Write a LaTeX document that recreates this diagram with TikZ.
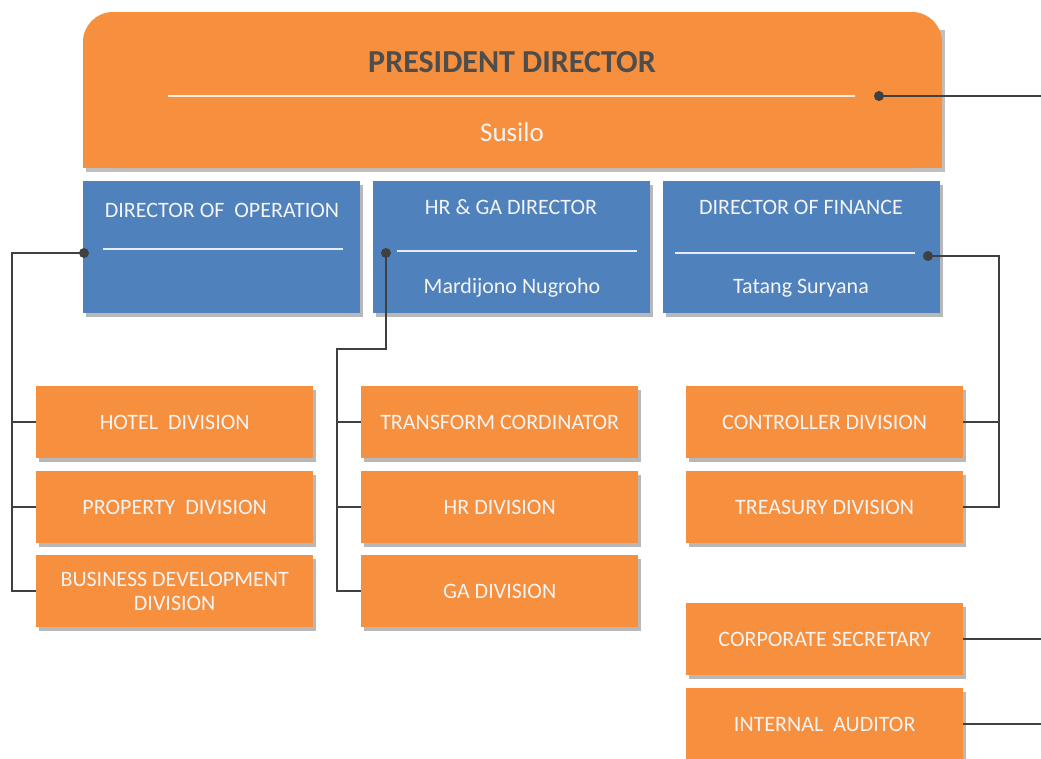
\documentclass[tikz,border=0pt]{standalone}
\usepackage{fontspec}
\setmainfont{Carlito}
\usetikzlibrary{shadows}
\definecolor{orbox}{HTML}{F68F3E}
\definecolor{blbox}{HTML}{4F81BD}
\definecolor{conn}{HTML}{404040}
\definecolor{lite}{HTML}{F4F4F4}
\definecolor{ptext}{HTML}{4D4D4D}
\begin{document}
\begin{tikzpicture}[x=1pt,y=-1pt,
  shad/.style={drop shadow={shadow xshift=3pt, shadow yshift=-4pt, opacity=0.28, fill=black}},
  obox/.style={rectangle, anchor=north west, minimum width=277pt, minimum height=72pt, inner sep=0pt,
     fill=orbox, shad, text=lite, align=center, font=\fontsize{22}{24}\selectfont},
  bbox/.style={rectangle, anchor=north west, minimum width=277pt, minimum height=132pt, inner sep=0pt,
     fill=blbox, shad},
  btext/.style={text=lite, font=\fontsize{22}{24}\selectfont, inner sep=0pt},
  sepline/.style={draw=white!85!blbox, line width=2pt},
  conn/.style={draw=conn, line width=1.5pt},
  dot/.style={fill=conn}]
\useasboundingbox (0,0) rectangle (1041,758);
\clip (0,0) rectangle (1041,758);
\fill[white] (0,0) rectangle (1041,758);

% President director box
\fill[black, opacity=0.25] (86,30) rectangle (945,172);
\fill[orbox, rounded corners=30pt] (83,12) rectangle (942,168);
\fill[orbox] (83,100) rectangle (942,168);
\node[inner sep=0pt, text=ptext, font=\fontsize{32}{34}\selectfont\bfseries] (pres) at (512,62) {PRESIDENT DIRECTOR};
\draw[draw=white!85!orbox, line width=2pt] (168,96) -- (855,96);
\node[inner sep=0pt, text=lite, font=\fontsize{27}{29}\selectfont] (susilo) at (512,132) {Susilo};

% Director boxes
\node[bbox] (dop) at (83,181) {};
\node[bbox] (dhr) at (373,181) {};
\node[bbox] (dfi) at (663,181) {};
\node[btext] (dopt) at (222,210) {DIRECTOR OF\ \ OPERATION};
\node[btext] (dhrt) at (511,207) {HR \& GA DIRECTOR};
\node[btext] (dfit) at (801,207) {DIRECTOR OF FINANCE};
\node[btext] (dhrn) at (512,288) {Mardijono Nugroho};
\node[btext] (dfin) at (801,288) {Tatang Suryana};
\draw[sepline] (103,249) -- (343,249);
\draw[sepline] (397,251) -- (637,251);
\draw[sepline] (675,253) -- (915,253);

% Division boxes
\node[obox] (hotel) at (36,386) {HOTEL\ \ DIVISION};
\node[obox] (prop) at (36,471) {PROPERTY\ \ DIVISION};
\node[obox] (biz) at (36,555) {BUSINESS DEVELOPMENT\\DIVISION};
\node[obox] (tc) at (361,386) {TRANSFORM CORDINATOR};
\node[obox] (hrd) at (361,471) {HR DIVISION};
\node[obox] (gad) at (361,555) {GA DIVISION};
\node[obox] (ctrl) at (686,386) {CONTROLLER DIVISION};
\node[obox] (treas) at (686,471) {TREASURY DIVISION};
\node[obox] (csec) at (686,603) {CORPORATE SECRETARY};
\node[obox] (iaud) at (686,688) {INTERNAL\ \ AUDITOR};

% Connector points
\coordinate (d0) at (879,96);
\coordinate (e0) at (1041,96);
\coordinate (d1) at (84,253);
\coordinate (t1) at (12,253);
\coordinate (d2) at (386,253);
\coordinate (m2) at (386,349);
\coordinate (t2) at (337,349);
\coordinate (d3) at (928,256);
\coordinate (t3) at (999,256);
\coordinate (eright) at (1041,700);

% Connectors
\draw[conn] (d0) -- (e0);
\draw[conn] (d1) -- (t1) |- (biz.west);
\draw[conn] (t1 |- hotel.west) -- (hotel.west);
\draw[conn] (t1 |- prop.west) -- (prop.west);
\draw[conn] (d2) -- (m2) -- (t2) |- (gad.west);
\draw[conn] (t2 |- tc.west) -- (tc.west);
\draw[conn] (t2 |- hrd.west) -- (hrd.west);
\draw[conn] (d3) -- (t3) |- (treas.east);
\draw[conn] (t3 |- ctrl.east) -- (ctrl.east);
\draw[conn] (csec.east) -- (csec.east -| eright);
\draw[conn] (iaud.east) -- (iaud.east -| eright);

% Dots
\fill[dot] (d0) circle (5pt);
\fill[dot] (d1) circle (5pt);
\fill[dot] (d2) circle (5pt);
\fill[dot] (d3) circle (5pt);
\end{tikzpicture}
\end{document}
